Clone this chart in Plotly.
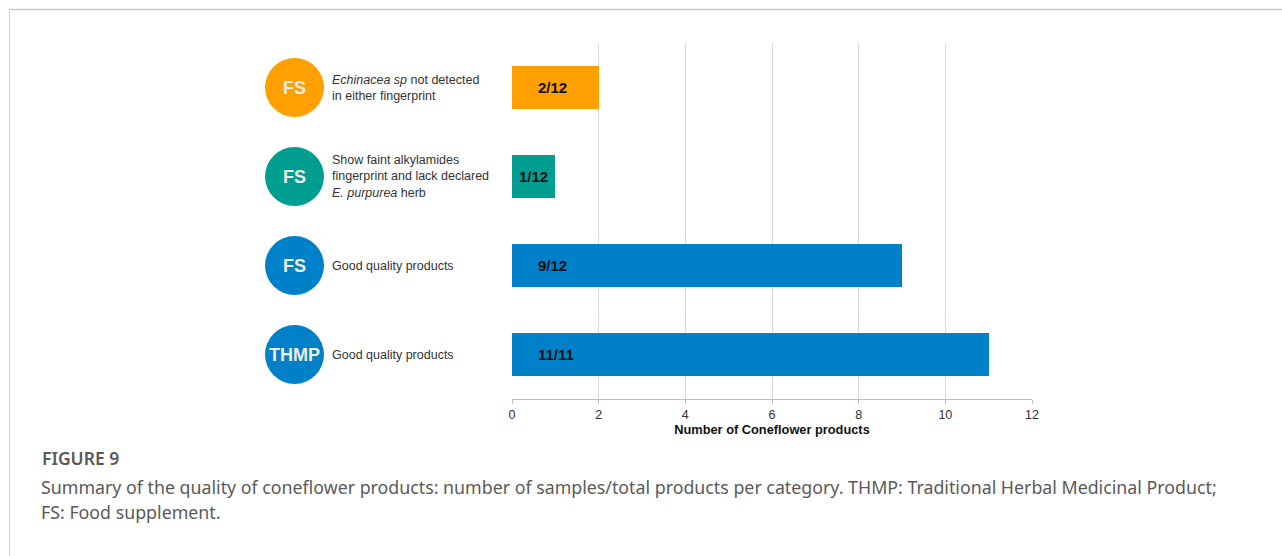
import plotly.graph_objects as go

# Product groups, top to bottom
badges = ["FS", "FS", "FS", "THMP"]
descriptions = [
    "<i>Echinacea sp</i> not detected<br>in either fingerprint",
    "Show faint alkylamides<br>fingerprint and lack declared<br><i>E. purpurea</i> herb",
    "Good quality products",
    "Good quality products",
]
counts = [2, 1, 9, 11]
totals = [12, 12, 12, 11]
colors = ["#FFA000", "#009E91", "#0080C8", "#0080C8"]

x_ticks = [0, 2, 4, 6, 8, 10, 12]
x_title = "Number of Coneflower products"
caption_head = "FIGURE 9"
caption_lines = [
    "Summary of the quality of coneflower products: number of samples/total products per category. "
    "THMP: Traditional Herbal Medicinal Product;",
    "FS: Food supplement.",
]

# Page geometry (pixels)
W, H = 1282, 556
L, R, T, B = 512, 1032, 43, 399
PW, PH = R - L, B - T


def px_x(px):
    return (px - L) / PW


def px_y(py):
    return (B - py) / PH


n = len(counts)
ypos = list(range(n - 1, -1, -1))  # first group at top
labels = [f"{c}/{t}" for c, t in zip(counts, totals)]

fig = go.Figure()
fig.add_trace(go.Bar(
    x=counts, y=ypos, orientation="h", width=0.48,
    marker=dict(color=colors, line=dict(width=0)),
    hoverinfo="skip", showlegend=False,
))

label_font = dict(family="Liberation Sans, Arial", size=15, color="#111")
annotations = []
shapes = []
for yv, c, lab, badge, desc, col in zip(ypos, counts, labels, badges, descriptions, colors):
    # value label inside the bar
    if c >= 2:
        annotations.append(dict(x=0.55, y=yv, xref="x", yref="y", text=f"<b>{lab}</b>",
                                showarrow=False, xanchor="left", yanchor="middle", font=label_font))
    else:
        annotations.append(dict(x=c / 2, y=yv, xref="x", yref="y", text=f"<b>{lab}</b>",
                                showarrow=False, xanchor="center", yanchor="middle", font=label_font))
    # round badge
    shapes.append(dict(type="circle", xref="paper", yref="y",
                       xsizemode="pixel", ysizemode="pixel",
                       xanchor=px_x(294.5), yanchor=yv,
                       x0=-29.5, x1=29.5, y0=-29.5, y1=29.5,
                       fillcolor=col, line=dict(width=0), layer="above"))
    annotations.append(dict(x=px_x(294.5), y=yv, xref="paper", yref="y", text=f"<b>{badge}</b>",
                            showarrow=False, xanchor="center", yanchor="middle",
                            font=dict(family="Liberation Sans, Arial", size=18, color="#F2EDE0")))
    # group description
    annotations.append(dict(x=px_x(330), y=yv, xref="paper", yref="y", text=desc,
                            showarrow=False, xanchor="left", yanchor="middle", align="left",
                            font=dict(family="Liberation Sans, Arial", size=12.5, color="#333")))

# caption below the chart
annotations.append(dict(x=px_x(40), y=px_y(458), xref="paper", yref="paper", text=caption_head,
                        showarrow=False, xanchor="left", yanchor="middle",
                        font=dict(family="Noto Sans", size=17.5, color="#595959", weight=600)))
for i, line in enumerate(caption_lines):
    annotations.append(dict(x=px_x(39), y=px_y(487 + 25 * i), xref="paper", yref="paper", text=line,
                            showarrow=False, xanchor="left", yanchor="middle",
                            font=dict(family="Noto Sans", size=17.8, color="#5A5A5A")))

# page frame: top and left rules
shapes.append(dict(type="line", xref="paper", yref="paper",
                   x0=px_x(9.5), x1=px_x(W), y0=px_y(9.5), y1=px_y(9.5),
                   line=dict(color="#C8C8C8", width=1.5)))
shapes.append(dict(type="line", xref="paper", yref="paper",
                   x0=px_x(9.5), x1=px_x(9.5), y0=px_y(9.5), y1=px_y(H),
                   line=dict(color="#D0D0D0", width=1)))

fig.update_layout(
    width=W, height=H,
    margin=dict(l=L, r=W - R, t=T, b=H - B),
    paper_bgcolor="white", plot_bgcolor="white",
    annotations=annotations, shapes=shapes,
    bargap=0,
    xaxis=dict(range=[0, 12], tickvals=x_ticks, showgrid=True, gridcolor="#D9D9D9", gridwidth=1,
               zeroline=False, showline=True, linecolor="#BFBFBF", linewidth=1,
               ticks="outside", ticklen=4, tickcolor="#BFBFBF",
               tickfont=dict(family="Liberation Sans, Arial", size=12.5, color="#333"),
               title=dict(text=f"<b>{x_title}</b>", standoff=3,
                          font=dict(family="Liberation Sans, Arial", size=12.8, color="#111"))),
    yaxis=dict(range=[-0.5, n - 0.5], showgrid=False, zeroline=False, showticklabels=False,
               showline=False, ticks=""),
)

fig.write_html("out.html")
